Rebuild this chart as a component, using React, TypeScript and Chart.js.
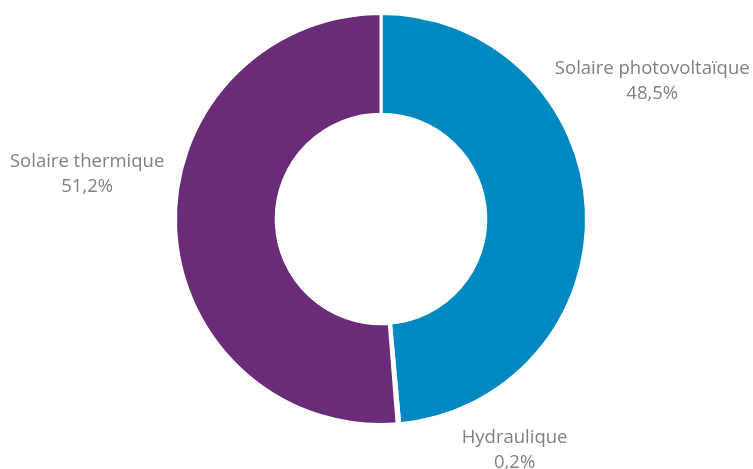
import React, { useEffect, useRef } from "react";
import { Chart, registerables } from "chart.js";

Chart.register(...registerables);

const categories = ["Solaire photovoltaïque", "Hydraulique", "Solaire thermique"];
const shares = [48.5, 0.2, 51.2];
const valueLabels = ["48,5%", "0,2%", "51,2%"];
const colors = ["#0089C1", "#FFFFFF", "#6A2C78"];
// label anchor offsets relative to the doughnut centre (in units of outer radius)
const labelOffsets = [
  [1.32, -0.67],
  [0.65, 1.125],
  [-1.43, -0.22],
];

const labelPlugin = {
  id: "sliceLabels",
  afterDraw(chart: any) {
    const meta = chart.getDatasetMeta(0);
    const arc = meta.data[0];
    if (!arc) return;
    const { x, y, outerRadius } = arc.getProps(["x", "y", "outerRadius"], true);
    const ctx = chart.ctx;
    ctx.save();
    ctx.fillStyle = "#818181";
    ctx.font = "18.5px 'Open Sans', sans-serif";
    ctx.textAlign = "center";
    ctx.textBaseline = "middle";
    categories.forEach((c, i) => {
      const cx = x + labelOffsets[i][0] * outerRadius;
      const cy = y + labelOffsets[i][1] * outerRadius;
      ctx.fillText(c, cx, cy - 12.5);
      ctx.fillText(valueLabels[i], cx, cy + 12.5);
    });
    ctx.restore();
  },
};

export default function App() {
  const ref = useRef<HTMLCanvasElement>(null);
  useEffect(() => {
    document.body.style.margin = "0";
    const chart = new Chart(ref.current!, {
      type: "doughnut",
      data: {
        labels: categories,
        datasets: [
          {
            data: shares,
            backgroundColor: colors,
            borderColor: "#FFFFFF",
            borderWidth: 3,
          },
        ],
      },
      options: {
        responsive: false,
        animation: false,
        cutout: "51%",
        layout: { padding: { top: 12, bottom: 43, left: 174, right: 165 } },
        plugins: { legend: { display: false }, tooltip: { enabled: false } },
      },
      plugins: [labelPlugin],
    });
    return () => chart.destroy();
  }, []);
  return (
    <div style={{ width: 753, height: 469, background: "#fff" }}>
      <canvas ref={ref} width={753} height={469} />
    </div>
  );
}
